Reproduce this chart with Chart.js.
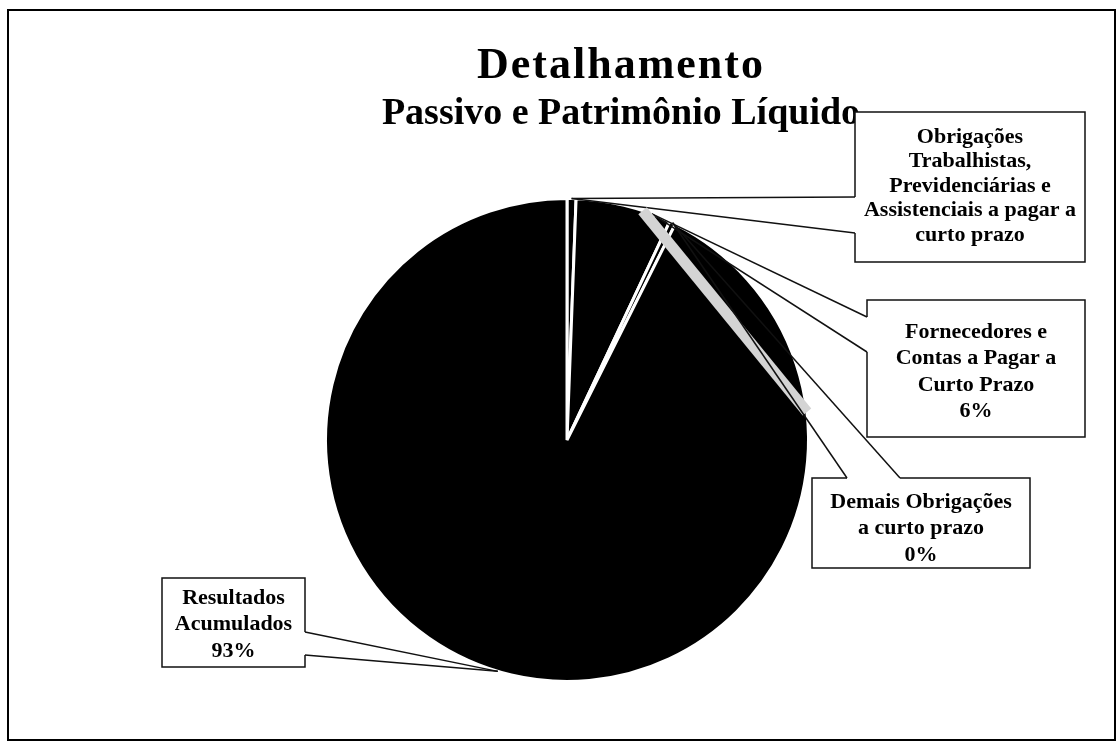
<!DOCTYPE html>
<html>
<head>
<meta charset="utf-8">
<script src="https://cdn.jsdelivr.net/npm/chart.js@4"></script>
<style>
  html, body { margin: 0; padding: 0; background: #fff; }
  #wrap { width: 1118px; height: 751px; }
</style>
</head>
<body>
<div id="wrap"><canvas id="pie-chart" width="1118" height="751"></canvas></div>
<script>
// chart data
const categories = [
    "Obrigações Trabalhistas, Previdenciárias e Assistenciais a pagar a curto prazo",
    "Fornecedores e Contas a Pagar a Curto Prazo",
    "Demais Obrigações a curto prazo",
    "Resultados Acumulados"
];
const values = [0.6, 6.4, 0.4, 92.6];
const labelLines = [
    ["Obrigações", "Trabalhistas,", "Previdenciárias e", "Assistenciais a pagar a", "curto prazo"],
    ["Fornecedores e", "Contas a Pagar a", "Curto Prazo"],
    ["Demais Obrigações", "a curto prazo"],
    ["Resultados", "Acumulados"]
];
const showPercent = [false, true, true, true];
const titleLines = ["Detalhamento", "Passivo e Patrimônio Líquido"];

// callout boxes: rect + where the pointer leaves the box
const callouts = [
    { x1: 855, y1: 112, x2: 1085, y2: 262, side: "left", a: 197, b: 233, f: 0.5, textTop: 137 },
    { x1: 867, y1: 300, x2: 1085, y2: 437, side: "left", a: 317, b: 352, f: 0.8, textTop: 332 },
    { x1: 812, y1: 478, x2: 1030, y2: 568, side: "top", a: 847, b: 900, f: 0.5, textTop: 502 },
    { x1: 162, y1: 578, x2: 305, y2: 667, side: "right", a: 632, b: 655, f: 0.51, textTop: 598 }
];

const total = values.reduce((s, v) => s + v, 0);

function line(ctx, x1, y1, x2, y2) {
    ctx.beginPath();
    ctx.moveTo(x1, y1);
    ctx.lineTo(x2, y2);
    ctx.stroke();
}

const calloutPlugin = {
    id: "callouts",
    afterDraw(chart) {
        const ctx = chart.ctx;
        const meta = chart.getDatasetMeta(0);
        ctx.save();

        // outer frame
        ctx.strokeStyle = "#000";
        ctx.lineWidth = 2;
        ctx.strokeRect(8, 10, 1107, 730);

        // title
        ctx.fillStyle = "#000";
        ctx.textAlign = "center";
        ctx.textBaseline = "middle";
        ctx.font = "bold 44px 'Liberation Serif', 'Times New Roman', serif";
        ctx.letterSpacing = "2px";
        ctx.fillText(titleLines[0], 621, 67);
        ctx.letterSpacing = "0px";
        ctx.font = "bold 38px 'Liberation Serif', 'Times New Roman', serif";
        ctx.fillText(titleLines[1], 621, 114);

        callouts.forEach(function(c, i) {
            const arc = meta.data[i];
            const p = arc.getProps(["x", "y", "startAngle", "endAngle", "outerRadius"], true);
            const ang = p.startAngle + c.f * (p.endAngle - p.startAngle);
            const ax = p.x + Math.cos(ang) * p.outerRadius;
            const ay = p.y + Math.sin(ang) * p.outerRadius;

            // pointer ends on the box
            let e1, e2;
            if (c.side === "left") { e1 = [c.x1, c.a]; e2 = [c.x1, c.b]; }
            else if (c.side === "right") { e1 = [c.x2, c.a]; e2 = [c.x2, c.b]; }
            else { e1 = [c.a, c.y1]; e2 = [c.b, c.y1]; }

            if (i === 2) {
                // light band where the pointer crosses the pie
                ctx.strokeStyle = "#d4d4d4";
                ctx.lineWidth = 11;
                line(ctx, ax - 30, ay - 12, e1[0] - 40, e1[1] - 66);
            }

            // box
            ctx.fillStyle = "#fff";
            ctx.fillRect(c.x1, c.y1, c.x2 - c.x1, c.y2 - c.y1);
            ctx.strokeStyle = "#111";
            ctx.lineWidth = 1.5;
            ctx.beginPath();
            if (c.side === "left") {
                ctx.moveTo(c.x1, c.a);
                ctx.lineTo(c.x1, c.y1);
                ctx.lineTo(c.x2, c.y1);
                ctx.lineTo(c.x2, c.y2);
                ctx.lineTo(c.x1, c.y2);
                ctx.lineTo(c.x1, c.b);
            } else if (c.side === "right") {
                ctx.moveTo(c.x2, c.a);
                ctx.lineTo(c.x2, c.y1);
                ctx.lineTo(c.x1, c.y1);
                ctx.lineTo(c.x1, c.y2);
                ctx.lineTo(c.x2, c.y2);
                ctx.lineTo(c.x2, c.b);
            } else {
                ctx.moveTo(c.a, c.y1);
                ctx.lineTo(c.x1, c.y1);
                ctx.lineTo(c.x1, c.y2);
                ctx.lineTo(c.x2, c.y2);
                ctx.lineTo(c.x2, c.y1);
                ctx.lineTo(c.b, c.y1);
            }
            ctx.stroke();
            line(ctx, e1[0], e1[1], ax, ay);
            line(ctx, e2[0], e2[1], ax, ay);

            const lines = labelLines[i].slice();
            if (showPercent[i]) {
                lines.push(Math.round(values[i] / total * 100) + "%");
            }
            const step = i === 0 ? 24.5 : 26.5;
            ctx.fillStyle = "#000";
            ctx.font = "bold 22px 'Liberation Serif', 'Times New Roman', serif";
            const cx = (c.x1 + c.x2) / 2;
            lines.forEach(function(t, k) {
                ctx.fillText(t, cx, c.textTop + k * step);
            });
        });
        ctx.restore();
    }
};

const data = {
    labels: categories,
    datasets: [
        {
            data: values,
            backgroundColor: "#000000",
            borderColor: "#ffffff",
            borderWidth: 3
        }
    ]
};

const options = {
    responsive: false,
    animation: false,
    layout: { padding: { left: 324, right: 308, top: 197, bottom: 68 } },
    plugins: {
        legend: { display: false },
        tooltip: { enabled: false },
        title: { display: false }
    }
};

const pieChart = new Chart(document.getElementById("pie-chart").getContext("2d"), {
    type: "pie",
    data: data,
    options: options,
    plugins: [calloutPlugin]
});
</script>
</body>
</html>
